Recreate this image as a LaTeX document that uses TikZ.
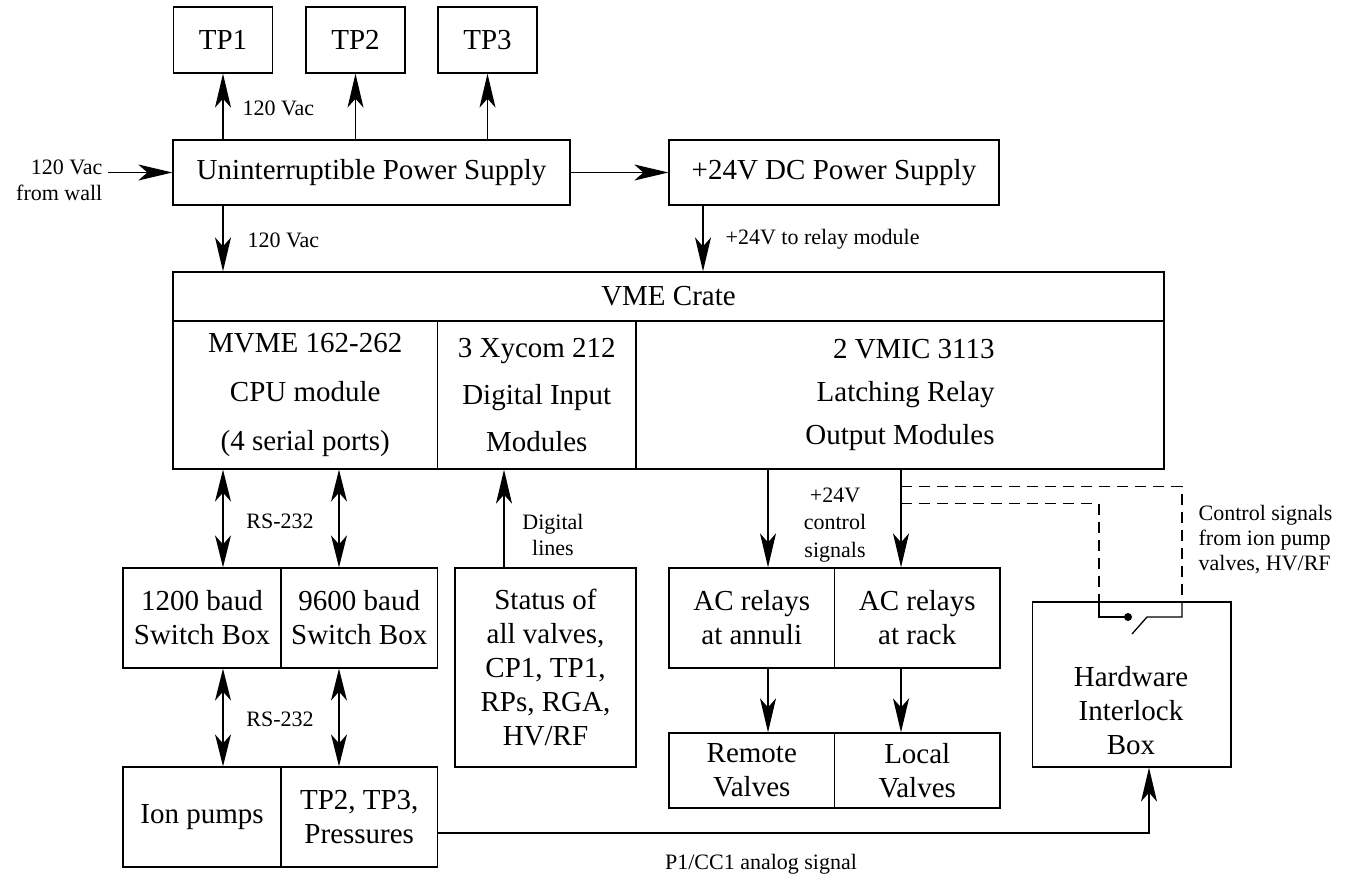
\documentclass[tikz,border=0pt]{standalone}
\usepackage{fontspec}
\setmainfont{Liberation Serif}
\usetikzlibrary{arrows.meta}
\begin{document}
\begin{tikzpicture}[x=1pt, y=-1pt, line width=1.3pt,
  txt/.style={inner sep=0pt, align=center, font=\fontsize{29}{34}\selectfont},
  box/.style={txt, draw},
  lbl/.style={inner sep=0pt, align=center, font=\fontsize{22}{26}\selectfont},
  arr/.style={-{Stealth[length=34pt,width=16pt,inset=9pt]}},
  arrb/.style={{Stealth[length=32pt,width=16pt,inset=9pt]}-{Stealth[length=32pt,width=16pt,inset=9pt]}},
  ctl/.style={dash pattern=on 11pt off 7pt}]
\useasboundingbox (0,0) rectangle (1354,875);

\foreach \n/\x in {1/223,2/355.5,3/487.5}
  \node[box, minimum width=99pt, minimum height=66pt] (tp\n) at (\x,40) {TP\n};

\node[box, minimum width=397pt, minimum height=65pt] (ups) at (371.5,172.5) {Uninterruptible Power Supply};
\node[box, minimum width=330pt, minimum height=65pt] (dc) at (834,172.5) {+24V DC Power Supply};

\node[box, minimum width=991pt, minimum height=49pt] (crate) at (668.5,296.5) {VME Crate};
\node[box, minimum width=264.5pt, minimum height=148pt, font=\fontsize{29}{49}\selectfont] (cpu) at (305.25,395) {MVME 162-262\\CPU module\\(4 serial ports)};
\node[box, minimum width=198.5pt, minimum height=148pt, font=\fontsize{29}{47}\selectfont] (xycom) at (536.75,395) {3 Xycom 212\\Digital Input\\Modules};
\node[box, align=right, minimum width=528pt, minimum height=148pt, font=\fontsize{29}{43}\selectfont] (vmic) at (900,395) {2 VMIC 3113\\Latching Relay\\Output Modules};

\node[box, minimum width=158pt, minimum height=100pt] (sw1) at (202,618) {1200 baud\\Switch Box};
\node[box, minimum width=156.5pt, minimum height=100pt] (sw2) at (359.25,618) {9600 baud\\Switch Box};
\node[box, minimum width=158pt, minimum height=100pt] (ion) at (202,817) {Ion pumps};
\node[box, minimum width=156.5pt, minimum height=100pt] (press) at (359.25,817) {TP2, TP3,\\Pressures};

\node[box, minimum width=181pt, minimum height=199pt] (status) at (545.5,667.5) {Status of\\all valves,\\CP1, TP1,\\RPs, RGA,\\HV/RF};

\node[box, minimum width=165.5pt, minimum height=100pt] (acl) at (751.75,618) {AC relays\\at annuli};
\node[box, minimum width=165.5pt, minimum height=100pt] (acr) at (917.25,618) {AC relays\\at rack};
\node[box, minimum width=165.5pt, minimum height=75pt] (remote) at (751.75,770.5) {Remote\\Valves};
\node[box, minimum width=165.5pt, minimum height=75pt] (local) at (917.25,770.5) {Local\\Valves};

\node[box, minimum width=198.4pt, minimum height=165pt] (hil) at (1131.8,684.5) {};
\node[txt] (hiltxt) at (1131,711) {Hardware\\Interlock\\Box};

\node[lbl, anchor=east, align=right, inner xsep=5pt] (wall) at (108,180) {120 Vac\\from wall};
\node[lbl, anchor=west] (vac1) at (242,108) {120 Vac};
\node[lbl, anchor=west] (vac2) at (247,240) {120 Vac};
\node[lbl, anchor=west] (relay) at (725,239) {+24V to relay module};
\node[lbl] (rs1) at (280,521) {RS-232};
\node[lbl] (rs2) at (280,719) {RS-232};
\node[lbl] (dig) at (553,535) {Digital\\lines};
\node[lbl, font=\fontsize{22}{27.5}\selectfont] (sig) at (835,525) {+24V\\control\\signals};
\node[lbl, anchor=west, align=left, font=\fontsize{22}{25}\selectfont] (ctltxt) at (1198,540) {Control signals\\from ion pump\\valves, HV/RF};
\node[lbl] (ana) at (761,864) {P1/CC1 analog signal};

\coordinate (ca) at (223,0);
\coordinate (cb) at (339,0);
\coordinate (cc) at (504,0);
\coordinate (cd) at (703,0);
\coordinate (ce) at (768,0);
\coordinate (cf) at (901,0);
\coordinate (cg) at (1149,0);
\coordinate (sl) at (1099,0);
\coordinate (sr) at (1182,0);

\draw[arr] (wall.east |- ups.west) -- (ups.west);
\draw[arr] (ups) -- (dc);
\foreach \t in {tp1,tp2,tp3} {\draw[arr] (ups.north -| \t) -- (\t);}
\draw[arr] (ups.south -| ca) -- (crate.north -| ca);
\draw[arr] (dc.south -| cd) -- (crate.north -| cd);

\foreach \c in {ca,cb} {
  \draw[arrb] (cpu.south -| \c) -- (sw1.north -| \c);
  \draw[arrb] (sw1.south -| \c) -- (ion.north -| \c);
}
\draw[arr] (status.north -| cc) -- (xycom.south -| cc);

\draw[arr] (vmic.south -| ce) -- (acl.north -| ce);
\draw[arr] (vmic.south -| cf) -- (acr.north -| cf);
\draw[arr] (acl.south -| ce) -- (remote.north -| ce);
\draw[arr] (acr.south -| cf) -- (local.north -| cf);
\draw[arr] ([yshift=-16pt]press.east) -| (hil.south -| cg);

\draw[ctl] (vmic.south -| cf) ++(0,17) -| (hil.north -| sr);
\draw[ctl] (vmic.south -| cf) ++(0,34) -| (hil.north -| sl);

\coordinate (dot) at (1128,617);
\coordinate (bl) at (1132,634);
\coordinate (bt) at (1147,617);
\draw (hil.north -| sl) |- (dot);
\fill (dot) circle (4pt);
\draw (bl) -- (bt) -- (sr |- dot) -- (hil.north -| sr);

\end{tikzpicture}
\end{document}
